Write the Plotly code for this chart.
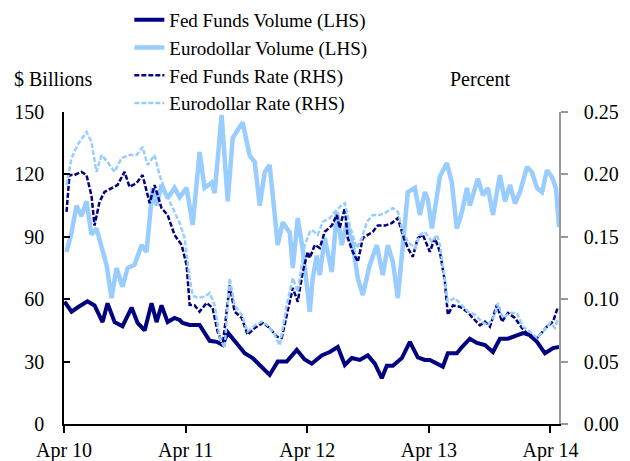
import plotly.graph_objects as go

# ---- data (time in decimal years; Apr 2010 = 2010.25) ----
# Fed Funds Volume ($ billions, LHS)
ffv_t = [2010.254, 2010.312, 2010.361, 2010.443, 2010.501, 2010.567, 2010.608, 2010.666, 2010.731,
         2010.806, 2010.855, 2010.913, 2010.970, 2011.011, 2011.052, 2011.102, 2011.159, 2011.201,
         2011.225, 2011.283, 2011.365, 2011.448, 2011.505, 2011.555, 2011.596, 2011.670, 2011.736,
         2011.801, 2011.876, 2011.941, 2012.007, 2012.081, 2012.164, 2012.229, 2012.287, 2012.369,
         2012.435, 2012.501, 2012.559, 2012.616, 2012.682, 2012.748, 2012.806, 2012.863, 2012.904,
         2012.954, 2013.028, 2013.094, 2013.159, 2013.217, 2013.258, 2013.365, 2013.406, 2013.480,
         2013.522, 2013.587, 2013.645, 2013.711, 2013.777, 2013.834, 2013.900, 2013.974, 2014.024,
         2014.081, 2014.139, 2014.205, 2014.271, 2014.320]
ffv = [58.8, 54, 56, 59, 57, 49, 58, 49, 47,
       56, 48.6, 45, 58, 49, 57, 49, 51, 50,
       48.6, 47.6, 47.6, 40, 39.5, 38, 44, 39, 34,
       31.7, 27, 23.6, 30, 30, 35.6, 31, 29, 33,
       34.6, 37, 28.4, 31.7, 30.8, 33, 29, 22, 28,
       28, 31.7, 39.5, 32, 30.8, 30.8, 27.6, 34, 34,
       37, 41, 39, 38, 34.6, 41, 41, 42.8, 43.7,
       42.8, 39.5, 34, 36.5, 37]

# Eurodollar Volume ($ billions, LHS)
edv_t = [2010.271, 2010.312, 2010.353, 2010.394, 2010.435, 2010.476, 2010.517, 2010.559, 2010.600,
         2010.641, 2010.682, 2010.731, 2010.773, 2010.830, 2010.888, 2010.929, 2010.954, 2010.978,
         2011.011, 2011.052, 2011.102, 2011.159, 2011.201, 2011.258, 2011.308, 2011.365, 2011.406,
         2011.464, 2011.489, 2011.546, 2011.596, 2011.637, 2011.719, 2011.777, 2011.818, 2011.859,
         2011.900, 2011.941, 2011.983, 2012.007, 2012.048, 2012.106, 2012.131, 2012.172, 2012.213,
         2012.271, 2012.295, 2012.328, 2012.353, 2012.394, 2012.452, 2012.493, 2012.534, 2012.575,
         2012.624, 2012.666, 2012.707, 2012.764, 2012.822, 2012.871, 2012.913, 2012.954, 2012.995,
         2013.036, 2013.077, 2013.135, 2013.176, 2013.217, 2013.242, 2013.275, 2013.341, 2013.398,
         2013.439, 2013.480, 2013.522, 2013.563, 2013.587, 2013.653, 2013.694, 2013.736, 2013.777,
         2013.834, 2013.876, 2013.917, 2013.958, 2013.999, 2014.057, 2014.098, 2014.139, 2014.180,
         2014.221, 2014.262, 2014.295, 2014.320]
edv = [82.7, 92, 105, 100, 107, 91, 94, 84.6, 76.5,
       60.5, 75, 66, 75, 76.5, 86, 82.7, 99, 113.5,
       105, 115, 108.6, 113.5, 109, 113.5, 95.7, 130.8, 113.5,
       116, 111, 148.6, 107, 137.5, 145, 129, 126, 105,
       121, 124.5, 100.5, 86, 97, 92, 75, 99, 84,
       54, 70, 81, 71.6, 89.4, 73, 102, 86, 97,
       86, 70, 62, 76.5, 86, 71.6, 86, 78, 60.5,
       86, 111.5, 113.5, 100.5, 111.5, 108, 94, 119, 125.5,
       116, 94, 102, 113.5, 105, 118, 110, 113.5, 100.5,
       119.7, 107, 115, 106, 111.5, 123.6, 121, 113.5, 111.5,
       122, 118.7, 113.5, 94.7]

# Fed Funds Rate (percent, RHS)
ffr_t = [2010.271, 2010.295, 2010.336, 2010.394, 2010.435, 2010.476, 2010.501, 2010.542, 2010.583,
         2010.641, 2010.690, 2010.748, 2010.789, 2010.847, 2010.896, 2010.954, 2010.995, 2011.052,
         2011.102, 2011.159, 2011.217, 2011.258, 2011.283, 2011.324, 2011.365, 2011.423, 2011.472,
         2011.513, 2011.555, 2011.612, 2011.653, 2011.711, 2011.760, 2011.818, 2011.884, 2011.941,
         2011.999, 2012.040, 2012.081, 2012.131, 2012.172, 2012.213, 2012.254, 2012.271, 2012.312,
         2012.353, 2012.394, 2012.452, 2012.493, 2012.517, 2012.559, 2012.583, 2012.624, 2012.666,
         2012.707, 2012.748, 2012.789, 2012.830, 2012.888, 2012.945, 2012.995, 2013.036, 2013.077,
         2013.118, 2013.159, 2013.201, 2013.258, 2013.299, 2013.341, 2013.382, 2013.406, 2013.448,
         2013.505, 2013.563, 2013.612, 2013.670, 2013.711, 2013.752, 2013.810, 2013.851, 2013.900,
         2013.958, 2014.015, 2014.065, 2014.123, 2014.164, 2014.221, 2014.271, 2014.312]
ffr = [0.170, 0.1995, 0.1995, 0.202, 0.1995, 0.183, 0.159, 0.178, 0.186,
       0.189, 0.1915, 0.202, 0.190, 0.193, 0.1995, 0.177, 0.1915, 0.173,
       0.1675, 0.1515, 0.1435, 0.1275, 0.0955, 0.095, 0.090, 0.097, 0.093,
       0.074, 0.063, 0.111, 0.090, 0.085, 0.0715, 0.077, 0.081, 0.077,
       0.070, 0.069, 0.0875, 0.109, 0.098, 0.122, 0.138, 0.133, 0.1435,
       0.141, 0.154, 0.159, 0.1675, 0.157, 0.173, 0.149, 0.138, 0.130,
       0.149, 0.1515, 0.154, 0.159, 0.159, 0.161, 0.165, 0.1515, 0.141,
       0.134, 0.149, 0.1515, 0.138, 0.149, 0.138, 0.114, 0.0875, 0.095,
       0.094, 0.090, 0.085, 0.079, 0.082, 0.078, 0.0955, 0.082, 0.089,
       0.085, 0.077, 0.0715, 0.067, 0.0715, 0.078, 0.082, 0.094]

# Eurodollar Rate (percent, RHS)
edr_t = [2010.271, 2010.312, 2010.361, 2010.435, 2010.476, 2010.517, 2010.559, 2010.608, 2010.666,
         2010.723, 2010.789, 2010.847, 2010.896, 2010.937, 2010.995, 2011.036, 2011.094, 2011.143,
         2011.201, 2011.242, 2011.283, 2011.308, 2011.349, 2011.406, 2011.448, 2011.489, 2011.530,
         2011.571, 2011.612, 2011.653, 2011.711, 2011.760, 2011.818, 2011.876, 2011.925, 2011.983,
         2012.024, 2012.081, 2012.131, 2012.172, 2012.229, 2012.271, 2012.287, 2012.336, 2012.378,
         2012.435, 2012.476, 2012.534, 2012.559, 2012.600, 2012.657, 2012.699, 2012.740, 2012.789,
         2012.847, 2012.904, 2012.954, 2012.995, 2013.036, 2013.077, 2013.135, 2013.176, 2013.217,
         2013.275, 2013.316, 2013.341, 2013.382, 2013.406, 2013.464, 2013.522, 2013.571, 2013.629,
         2013.686, 2013.736, 2013.793, 2013.818, 2013.859, 2013.917, 2013.974, 2014.024, 2014.081,
         2014.139, 2014.188, 2014.246, 2014.287, 2014.312]
edr = [0.1915, 0.213, 0.2235, 0.234, 0.226, 0.202, 0.2155, 0.210, 0.202,
       0.213, 0.2155, 0.2155, 0.222, 0.2075, 0.2155, 0.1995, 0.1835, 0.173,
       0.161, 0.149, 0.117, 0.103, 0.101, 0.102, 0.105, 0.095, 0.069,
       0.061, 0.117, 0.095, 0.0875, 0.074, 0.079, 0.082, 0.079, 0.0715,
       0.063, 0.095, 0.117, 0.106, 0.143, 0.154, 0.1555, 0.1515, 0.162,
       0.165, 0.170, 0.1755, 0.177, 0.159, 0.141, 0.149, 0.162, 0.1675,
       0.1675, 0.170, 0.173, 0.170, 0.154, 0.146, 0.141, 0.1515, 0.154,
       0.146, 0.1515, 0.1435, 0.117, 0.098, 0.101, 0.095, 0.090, 0.0875,
       0.082, 0.079, 0.0875, 0.097, 0.085, 0.089, 0.089, 0.078, 0.074,
       0.069, 0.074, 0.081, 0.077, 0.085]

tick_vals = [2010.25, 2011.25, 2012.25, 2013.25, 2014.25]
tick_text = ["Apr 10", "Apr 11", "Apr 12", "Apr 13", "Apr 14"]
left_ticks = [0, 30, 60, 90, 120, 150]
right_ticks = [0.00, 0.05, 0.10, 0.15, 0.20, 0.25]

NAVY = "#000080"
LIGHT = "#99CCFF"
FAM = "Liberation Serif, Times New Roman, serif"

fig = go.Figure()
fig.add_trace(go.Scatter(x=ffv_t, y=ffv, mode="lines", name="Fed Funds Volume (LHS)",
                         line=dict(color=NAVY, width=4)))
fig.add_trace(go.Scatter(x=edv_t, y=edv, mode="lines", name="Eurodollar Volume (LHS)",
                         line=dict(color=LIGHT, width=4.5)))
fig.add_trace(go.Scatter(x=ffr_t, y=ffr, mode="lines", name="Fed Funds Rate (RHS)", yaxis="y2",
                         line=dict(color=NAVY, width=2.5, dash="5px,2px")))
fig.add_trace(go.Scatter(x=edr_t, y=edr, mode="lines", name="Eurodollar Rate (RHS)", yaxis="y2",
                         line=dict(color=LIGHT, width=2.5, dash="5px,2px")))

# page has an 8px body margin, so the figure is 8px smaller on each axis
fig.update_layout(
    width=622, height=453,
    margin=dict(l=56, r=71, t=104, b=37, autoexpand=False),
    paper_bgcolor="white", plot_bgcolor="white",
    font=dict(family=FAM, size=20, color="black"),
    showlegend=True,
    legend=dict(x=0.132, y=1.356, xanchor="left", yanchor="top",
                bgcolor="rgba(0,0,0,0)", font=dict(family=FAM, size=19, color="black"),
                tracegroupgap=0),
    xaxis=dict(range=[2010.25, 2014.32], tickvals=tick_vals, ticktext=tick_text,
               showgrid=False, zeroline=False, showline=True, linecolor="black", linewidth=1.5,
               ticks="outside", ticklen=7, tickcolor="black", tickwidth=1.5,
               ticklabelstandoff=0, tickfont=dict(family=FAM, size=20, color="black")),
    yaxis=dict(range=[0, 150], tickvals=left_ticks, showgrid=False, zeroline=False,
               showline=True, linecolor="black", linewidth=1.5,
               ticks="inside", ticklen=6, tickcolor="black", tickwidth=1.5,
               ticklabelstandoff=14, tickfont=dict(family=FAM, size=20, color="black")),
    yaxis2=dict(range=[0, 0.25], tickvals=right_ticks, tickformat=".2f",
                overlaying="y", side="right", showgrid=False, zeroline=False,
                showline=True, linecolor="#999999", linewidth=1.5,
                ticks="outside", ticklen=7, tickcolor="#999999", tickwidth=1.5,
                ticklabelstandoff=12,
                tickfont=dict(family=FAM, size=20, color="black")),
    annotations=[
        dict(text="$ Billions", xref="paper", yref="paper", x=-0.105, y=1.105,
             xanchor="left", yanchor="middle", showarrow=False,
             font=dict(family=FAM, size=20, color="black")),
        dict(text="Percent", xref="paper", yref="paper", x=0.905, y=1.105,
             xanchor="right", yanchor="middle", showarrow=False,
             font=dict(family=FAM, size=20, color="black")),
    ],
)

fig.write_html("out.html")
